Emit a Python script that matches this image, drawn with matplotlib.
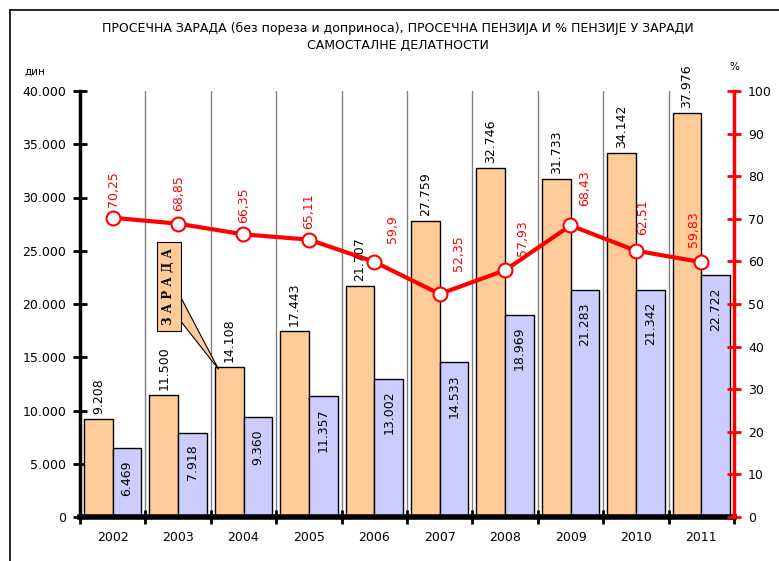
import matplotlib
matplotlib.use("Agg")
import matplotlib.pyplot as plt
from matplotlib.lines import Line2D
from matplotlib.patches import Polygon
import numpy as np

years = ["2002", "2003", "2004", "2005", "2006", "2007", "2008", "2009", "2010", "2011"]
salary = [9208, 11500, 14108, 17443, 21707, 27759, 32746, 31733, 34142, 37976]
pension = [6469, 7918, 9360, 11357, 13002, 14533, 18969, 21283, 21342, 22722]
pension_pct = [70.25, 68.85, 66.35, 65.11, 59.9, 52.35, 57.93, 68.43, 62.51, 59.83]

left_ticks = [0, 5000, 10000, 15000, 20000, 25000, 30000, 35000, 40000]
right_ticks = [0, 10, 20, 30, 40, 50, 60, 70, 80, 90, 100]

TITLE = ("ПРОСЕЧНА ЗАРАДА (без пореза и доприноса), ПРОСЕЧНА ПЕНЗИЈА И % ПЕНЗИЈЕ У ЗАРАДИ\n"
         "САМОСТАЛНЕ ДЕЛАТНОСТИ")

ORANGE = "#FFCC99"
LILAC = "#CCCCFF"
RED = "#FF0000"


def thousands(v):
    return f"{v:,}".replace(",", ".")


def main():
    W, H = 779, 561
    fig = plt.figure(figsize=(W / 100, H / 100), dpi=100)
    ax = fig.add_axes([80 / W, 1 - 517 / H, 654 / W, 426 / H])

    x = np.arange(len(years))
    bw = 0.44

    # category separators
    for b in np.arange(-0.5, len(years) + 0.5, 1.0)[1:-1]:
        ax.axvline(b, color="#808080", linewidth=1.0, zorder=0)

    ax.bar(x - bw, salary, width=bw, align="edge", color=ORANGE,
           edgecolor="black", linewidth=1.0, zorder=2)
    ax.bar(x, pension, width=bw, align="edge", color=LILAC,
           edgecolor="black", linewidth=1.0, zorder=2)

    for xi, v in zip(x, salary):
        ax.annotate(thousands(v), (xi - bw / 2, v), xytext=(0, 5),
                    textcoords="offset pixels", rotation=90, ha="center",
                    va="bottom", fontsize=9, zorder=3)
    for xi, v in zip(x, pension):
        ax.annotate(thousands(v), (xi + bw / 2, v), xytext=(0, -12),
                    textcoords="offset pixels", rotation=90, ha="center",
                    va="top", fontsize=9, zorder=3)

    ax.set_xlim(-0.5, len(years) - 0.5)
    ax.set_ylim(0, 40000)
    ax.set_yticks(left_ticks)
    ax.set_yticklabels([thousands(v) for v in left_ticks])
    ax.set_xticks(np.arange(-0.5, len(years), 1.0))
    ax.set_xticklabels([])
    ax.set_xticks(x, minor=True)
    ax.set_xticklabels(years, minor=True)

    for side in ("top", "right"):
        ax.spines[side].set_visible(False)
    ax.spines["left"].set_linewidth(2.5)
    ax.spines["bottom"].set_linewidth(4)
    ax.tick_params(axis="y", direction="inout", length=10, width=2,
                   labelsize=9, pad=5)
    ax.tick_params(axis="x", which="major", direction="inout", length=10, width=2)
    ax.tick_params(axis="x", which="minor", length=0, labelsize=9, pad=10)

    ax2 = ax.twinx()
    ax2.set_ylim(0, 100)
    ax2.set_yticks(right_ticks)
    for side in ("top", "left", "bottom"):
        ax2.spines[side].set_visible(False)
    ax2.spines["right"].set_color(RED)
    ax2.spines["right"].set_linewidth(2.5)
    ax2.tick_params(axis="y", direction="inout", length=10, width=2,
                    colors=RED, labelcolor="black", labelsize=9, pad=5)

    ax2.plot(x, pension_pct, color=RED, linewidth=3, marker="o",
             markersize=10, markerfacecolor="white", markeredgecolor=RED,
             markeredgewidth=1.5, zorder=4)

    shifts = [(1, 11), (1, 13), (0, 11), (0, 11), (18, 19),
              (19, 23), (17, 14), (14, 19), (7, 16), (-8, 15)]
    for xi, v, (dx, dy) in zip(x, pension_pct, shifts):
        ax2.annotate(f"{v:g}".replace(".", ","), (xi, v), xytext=(dx, dy),
                     textcoords="offset pixels", rotation=90, ha="center",
                     va="bottom", fontsize=9, color=RED, zorder=5)

    # callout label pointing at the 2004 salary bar
    box_x, box_y = (169 - 80) / 654, (517 - 286.5) / 426
    ax.text(box_x, box_y, "З А Р А Д А", transform=ax.transAxes,
            rotation=90, ha="center", va="center", fontsize=8.5,
            fontweight="bold", family="DejaVu Serif", zorder=7,
            bbox=dict(boxstyle="square,pad=0.5", fc=ORANGE, ec="black", lw=0.8))
    data_to_axes = ax.transData + ax.transAxes.inverted()
    tip = data_to_axes.transform((x[2] - bw + 0.06, salary[2] - 250))
    base_x = (179 - 80) / 654
    wedge = Polygon([(base_x, (517 - 294) / 426), tip, (base_x, (517 - 319) / 426)],
                    closed=True, transform=ax.transAxes, fc=ORANGE, ec="black",
                    lw=0.8, zorder=6)
    ax.add_patch(wedge)

    fig.text(398 / W, 1 - 37 / H, TITLE, ha="center", va="center",
             fontsize=9, linespacing=1.35)
    fig.text(35 / W, 1 - 72 / H, "дин", ha="center", va="center", fontsize=7.5)
    fig.text(734 / W, 1 - 67 / H, "%", ha="center", va="center", fontsize=7.5)

    # outer frame
    fx, fy = 10 / W, 1 - 10 / H
    fig.add_artist(Line2D([fx, fx], [fy, -0.1], color="black", linewidth=1.2,
                          transform=fig.transFigure))
    fig.add_artist(Line2D([fx, 1.1], [fy, fy], color="black", linewidth=1.2,
                          transform=fig.transFigure))

    fig.savefig("out.png", dpi=100)
    plt.close(fig)


if __name__ == "__main__":
    main()
